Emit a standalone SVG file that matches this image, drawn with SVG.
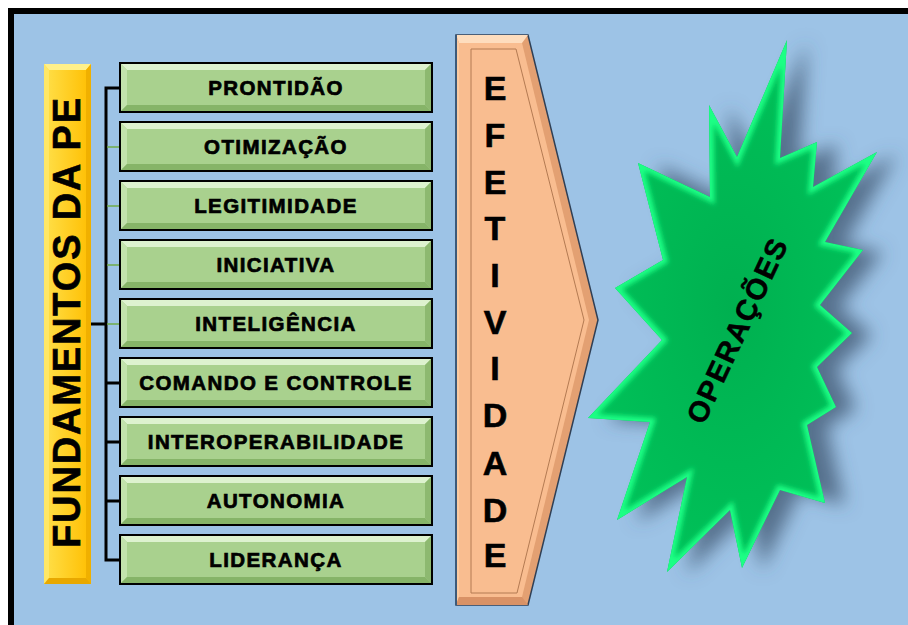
<svg xmlns="http://www.w3.org/2000/svg" xmlns:xlink="http://www.w3.org/1999/xlink" width="908" height="625" viewBox="0 0 908 625">
  <defs>
    <style>
      .lbl { font-family: "Liberation Sans", Arial, sans-serif; font-weight: bold; fill: #000; text-anchor: middle; }
      .box-t { font-size: 20.5px; letter-spacing: 1.4px; stroke: #000; stroke-width: 0.7; }
      .vert { font-size: 34px; stroke: #000; stroke-width: 0.6; }
      .conn { stroke: #000; stroke-width: 3; fill: none; }
      .conn-g { stroke: #70AD47; stroke-width: 1.5; fill: none; }
    </style>
    <linearGradient id="yel" x1="0" y1="0" x2="1" y2="0">
      <stop offset="0" stop-color="#FFE04A"/>
      <stop offset="1" stop-color="#FFBE00"/>
    </linearGradient>
    <radialGradient id="grn" cx="0.5" cy="0.5" r="0.6">
      <stop offset="0" stop-color="#00B050"/>
      <stop offset="1" stop-color="#00C45A"/>
    </radialGradient>
    <filter id="shadow" x="-30%" y="-30%" width="160%" height="160%">
      <feGaussianBlur in="SourceAlpha" stdDeviation="9"/>
      <feOffset dx="20" dy="2" result="b"/>
      <feFlood flood-color="#3F5670" flood-opacity="0.75"/>
      <feComposite in2="b" operator="in"/>
    </filter>
    <filter id="glow" x="-10%" y="-10%" width="120%" height="120%">
      <feGaussianBlur stdDeviation="2.5"/>
    </filter>
    <polygon id="starShape" points="787,40 780,158 817,142 813,187 877,152 825,242 863,250 820,305 852,333 817,367 836,407 807,425 825,503 780,490 742,568 730,510 667,572 687,477 617,520 650,422 588,418 662,340 615,288 663,260 638,163 710,197 709,105 737,157"/>
    <clipPath id="starClip"><use xlink:href="#starShape"/></clipPath>
    <g id="gbox">
      <rect x="0" y="0" width="312" height="49" fill="#A9D18E" stroke="#000" stroke-width="2"/>
      <polygon points="1,1 311,1 305,7 7,7" fill="#DDF2CF"/>
      <polygon points="1,1 7,7 7,42 1,48" fill="#C2E2AC"/>
      <polygon points="311,1 311,48 305,42 305,7" fill="#8DB970"/>
      <polygon points="1,48 7,42 305,42 311,48" fill="#86B468"/>
      <rect x="0" y="0" width="312" height="49" fill="none" stroke="#000" stroke-width="2"/>
    </g>
  </defs>

  <!-- background -->
  <rect x="0" y="0" width="908" height="625" fill="#FFFFFF"/>
  <rect x="8" y="8" width="900" height="617" fill="#000000"/>
  <rect x="14" y="14" width="894" height="611" fill="#9DC3E6"/>

  <!-- connectors -->
  <g id="connectors">
    <polyline class="conn" points="91,324 106,324"/>
    <polyline class="conn" points="121,88 106,88 106,560 121,560"/>
    <line class="conn-g" x1="107" y1="147" x2="121" y2="147"/>
    <line class="conn-g" x1="107" y1="206" x2="121" y2="206"/>
    <line class="conn-g" x1="107" y1="265" x2="121" y2="265"/>
    <line class="conn-g" x1="107" y1="324" x2="121" y2="324"/>
    <line class="conn" x1="106" y1="383" x2="121" y2="383"/>
    <line class="conn" x1="106" y1="442" x2="121" y2="442"/>
    <line class="conn" x1="106" y1="501" x2="121" y2="501"/>
  </g>

  <!-- root node -->
  <g id="fundamentos">
    <rect x="44" y="64" width="47" height="520" fill="url(#yel)"/>
    <polygon points="44,64 91,64 86,70 49,70" fill="#FFF08A"/>
    <polygon points="44,64 49,70 49,578 44,584" fill="#FFE766"/>
    <polygon points="91,64 91,584 86,578 86,70" fill="#F0B000"/>
    <polygon points="44,584 49,578 86,578 91,584" fill="#E8A800"/>
    <text class="lbl" font-size="38" transform="translate(80,323) rotate(-90)" textLength="450" lengthAdjust="spacing" stroke="#000" stroke-width="0.6">FUNDAMENTOS DA PE</text>
  </g>

  <g id="n-prontidao"><use xlink:href="#gbox" x="120" y="63"/><text class="lbl box-t" x="276" y="95">PRONTIDÃO</text></g>
  <g id="n-otimizacao"><use xlink:href="#gbox" x="120" y="122"/><text class="lbl box-t" x="276" y="154">OTIMIZAÇÃO</text></g>
  <g id="n-legitimidade"><use xlink:href="#gbox" x="120" y="181"/><text class="lbl box-t" x="276" y="213">LEGITIMIDADE</text></g>
  <g id="n-iniciativa"><use xlink:href="#gbox" x="120" y="240"/><text class="lbl box-t" x="276" y="272">INICIATIVA</text></g>
  <g id="n-inteligencia"><use xlink:href="#gbox" x="120" y="299"/><text class="lbl box-t" x="276" y="331">INTELIGÊNCIA</text></g>
  <g id="n-comando"><use xlink:href="#gbox" x="120" y="358"/><text class="lbl box-t" x="276" y="390">COMANDO E CONTROLE</text></g>
  <g id="n-interop"><use xlink:href="#gbox" x="120" y="417"/><text class="lbl box-t" x="276" y="449">INTEROPERABILIDADE</text></g>
  <g id="n-autonomia"><use xlink:href="#gbox" x="120" y="476"/><text class="lbl box-t" x="276" y="508">AUTONOMIA</text></g>
  <g id="n-lideranca"><use xlink:href="#gbox" x="120" y="535"/><text class="lbl box-t" x="276" y="567">LIDERANÇA</text></g>

  <!-- efetividade arrow -->
  <g id="efetividade">
    <polygon points="456,35 528,35 598,320 528,605 456,605" fill="#E3A072" stroke="#2F3F55" stroke-width="1.5"/>
    <polygon points="459,43 522,43 589,320 522,597 459,597" fill="#F9BD90"/>
    <polygon points="456,35 528,35 522,43 459,43" fill="#FEDDBE"/>
    <polygon points="456,35 459,43 459,597 456,605" fill="#FBCBA2"/>
    <polygon points="456,605 459,597 522,597 528,605" fill="#D99266"/>
    <polygon points="471,49 516,49 584,320 517,593 471,593" fill="none" stroke="#B37A52" stroke-width="1"/>
    <line x1="456" y1="35" x2="456" y2="605" stroke="#3C5A7A" stroke-width="2"/>
    <text class="lbl vert" x="495" y="100">E</text>
    <text class="lbl vert" x="495" y="147">F</text>
    <text class="lbl vert" x="495" y="194">E</text>
    <text class="lbl vert" x="495" y="240">T</text>
    <text class="lbl vert" x="495" y="287">I</text>
    <text class="lbl vert" x="495" y="334">V</text>
    <text class="lbl vert" x="495" y="380">I</text>
    <text class="lbl vert" x="495" y="427">D</text>
    <text class="lbl vert" x="495" y="475">A</text>
    <text class="lbl vert" x="495" y="522">D</text>
    <text class="lbl vert" x="495" y="567">E</text>
  </g>

  <!-- operacoes star -->
  <g id="operacoes">
    <use xlink:href="#starShape" filter="url(#shadow)"/>
    <use xlink:href="#starShape" fill="url(#grn)"/>
    <g clip-path="url(#starClip)">
      <use xlink:href="#starShape" fill="none" stroke="#1AFF85" stroke-width="9" stroke-linejoin="miter" filter="url(#glow)"/>
    </g>
    <text class="lbl" font-size="29" transform="translate(737,331) rotate(-65)" y="10" textLength="200" lengthAdjust="spacing" stroke="#000" stroke-width="0.5">OPERAÇÕES</text>
  </g>
</svg>
